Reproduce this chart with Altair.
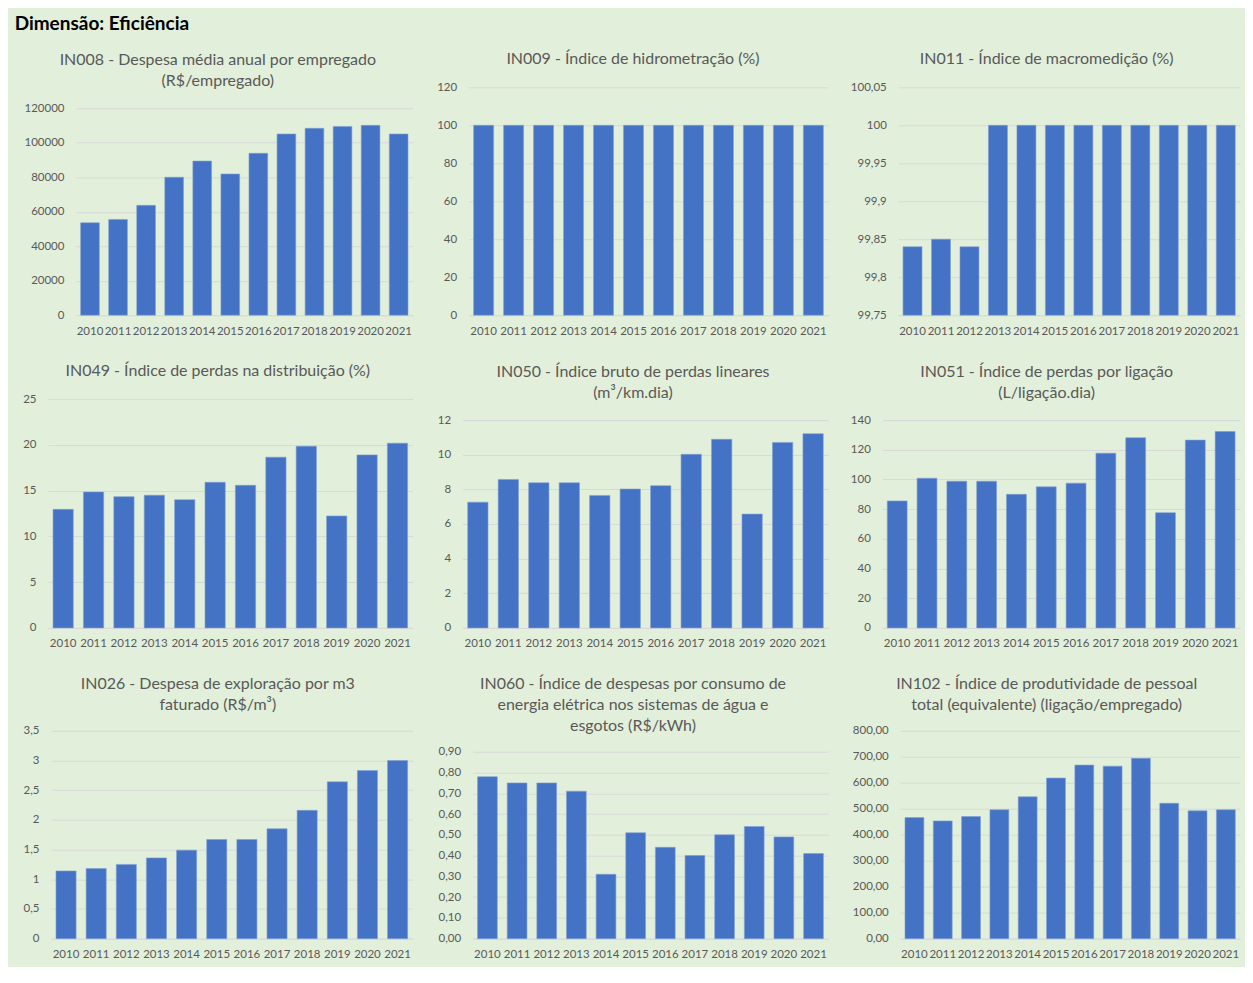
import altair as alt
import pandas as pd

years = ["2010", "2011", "2012", "2013", "2014", "2015", "2016", "2017", "2018", "2019", "2020", "2021"]

in008 = [53600, 55500, 63700, 80000, 89400, 81900, 93900, 105100, 108400, 109500, 110100, 105100]
in009 = [100, 100, 100, 100, 100, 100, 100, 100, 100, 100, 100, 100]
in011 = [99.84, 99.85, 99.84, 100, 100, 100, 100, 100, 100, 100, 100, 100]
in049 = [12.95, 14.85, 14.34, 14.49, 14.01, 15.91, 15.58, 18.65, 19.85, 12.23, 18.90, 20.18]
in050 = [7.26, 8.57, 8.38, 8.38, 7.65, 8.02, 8.21, 10.02, 10.89, 6.57, 10.71, 11.21]
in051 = [85.5, 100.8, 98.8, 98.8, 90.0, 95.0, 97.5, 117.7, 128.1, 77.6, 126.5, 132.3]
in026 = [1.14, 1.18, 1.25, 1.36, 1.49, 1.67, 1.67, 1.85, 2.16, 2.64, 2.83, 3.00]
in060 = [0.78, 0.75, 0.75, 0.71, 0.31, 0.51, 0.44, 0.40, 0.50, 0.54, 0.49, 0.41]
in102 = [466, 453, 470, 496, 546, 618, 668, 664, 694, 521, 492, 496]

ticks008 = [0, 20000, 40000, 60000, 80000, 100000, 120000]
ticks009 = [0, 20, 40, 60, 80, 100, 120]
ticks011 = [99.75, 99.8, 99.85, 99.9, 99.95, 100, 100.05]
ticks049 = [0, 5, 10, 15, 20, 25]
ticks050 = [0, 2, 4, 6, 8, 10, 12]
ticks051 = [0, 20, 40, 60, 80, 100, 120, 140]
ticks026 = [0, 0.5, 1, 1.5, 2, 2.5, 3, 3.5]
ticks060 = [0, 0.1, 0.2, 0.3, 0.4, 0.5, 0.6, 0.7, 0.8, 0.9]
ticks102 = [0, 100, 200, 300, 400, 500, 600, 700, 800]

title008 = ["IN008 - Despesa média anual por empregado", "(R$/empregado)"]
title009 = ["IN009 - Índice de hidrometração (%)"]
title011 = ["IN011 - Índice de macromedição (%)"]
title049 = ["IN049 - Índice de perdas na distribuição (%)"]
title050 = ["IN050 - Índice bruto de perdas lineares", "(m³/km.dia)"]
title051 = ["IN051 - Índice de perdas por ligação", "(L/ligação.dia)"]
title026 = ["IN026 - Despesa de exploração por m3", "faturado (R$/m³)"]
title060 = ["IN060 - Índice de despesas por consumo de", "energia elétrica nos sistemas de água e", "esgotos (R$/kWh)"]
title102 = ["IN102 - Índice de produtividade de pessoal", "total (equivalente) (ligação/empregado)"]

FONT = "Lato"
BAR = "#4472C4"
BG = "#E2EFDA"
GREY = "#595959"
LH = 21
# title offset by number of title lines
TITLE_OFFSET = {1: 14, 2: -2, 3: -23}

FMT_INT = "format(datum.value, 'd')"
FMT_2T = "replace(format(datum.value, '.2~f'), '.', ',')"
FMT_1T = "replace(format(datum.value, '.1~f'), '.', ',')"
FMT_2F = "replace(format(datum.value, '.2f'), '.', ',')"

# column widths (group incl. y labels) and row heights
COLW = [390, 391, 387]
ROWH = [228, 229, 228]


def panel(title, values, ticks, fmt, col, row, left, top):
    w, h = COLW[col], ROWH[row]
    df = pd.DataFrame({"ano": years, "valor": values})
    lo, hi = ticks[0], ticks[-1]
    return (
        alt.Chart(df)
        .mark_bar(color=BAR, stroke="#7F9FD8", strokeWidth=0.6)
        .encode(
            x=alt.X("ano:N", title=None,
                    scale=alt.Scale(paddingInner=1 / 3, paddingOuter=1 / 6, range=[left, w]),
                    axis=alt.Axis(labelAngle=0)),
            y=alt.Y("valor:Q", title=None,
                    scale=alt.Scale(domain=[lo, hi], zero=False, nice=False, range=[h, top]),
                    axis=alt.Axis(values=ticks, labelExpr=fmt, offset=-left)),
            y2=alt.datum(lo),
        )
        .properties(
            width=w,
            height=h,
            title=alt.TitleParams(text=title, font=FONT, fontSize=16, fontWeight="normal",
                                  color=GREY, lineHeight=LH, offset=TITLE_OFFSET[len(title)],
                                  anchor="middle"),
        )
    )


row1 = alt.hconcat(
    panel(title008, in008, ticks008, FMT_INT, 0, 0, 53, 21),
    panel(title009, in009, ticks009, FMT_INT, 1, 0, 31, 0),
    panel(title011, in011, ticks011, FMT_2T, 2, 0, 45, 0),
    spacing=25, bounds="flush",
)
row2 = alt.hconcat(
    panel(title049, in049, ticks049, FMT_INT, 0, 1, 25, 0),
    panel(title050, in050, ticks050, FMT_INT, 1, 1, 25, 21),
    panel(title051, in051, ticks051, FMT_INT, 2, 1, 29, 21),
    spacing=25, bounds="flush",
)
row3 = alt.hconcat(
    panel(title026, in026, ticks026, FMT_1T, 0, 2, 28, 20),
    panel(title060, in060, ticks060, FMT_2F, 1, 2, 35, 41),
    panel(title102, in102, ticks102, FMT_2F, 2, 2, 47, 20),
    spacing=25, bounds="flush",
)

chart = (
    alt.vconcat(row1, row2, row3, spacing=26)
    .properties(
        title=alt.TitleParams(text="Dimensão: Eficiência", anchor="start", font=FONT, fontSize=19,
                              fontWeight="bold", color="#000000", dx=-8, offset=17),
        padding={"left": 6, "top": 7, "right": 5, "bottom": 6},
        background=BG,
    )
    .configure_view(stroke=None)
    .configure_axis(labelFont=FONT, labelFontSize=11.5, labelColor=GREY, gridColor="#D9D9D9",
                    gridWidth=1, ticks=False)
    .configure_axisY(domain=False, labelPadding=12)
    .configure_axisX(domain=True, domainColor="#D9D9D9", grid=False, labelPadding=10)
)

chart.save("out.html", embed_options={"renderer": "svg", "actions": False})
